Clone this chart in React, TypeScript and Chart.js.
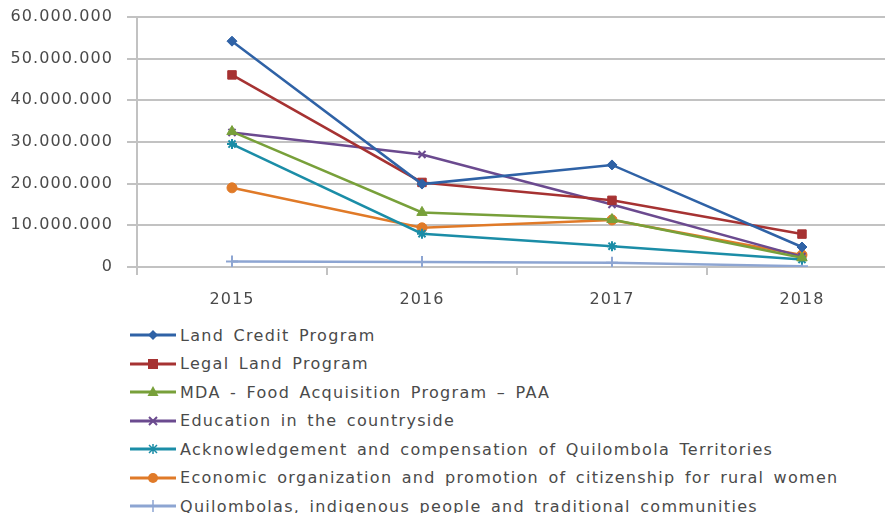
import { useEffect, useRef } from 'react';
import { Chart, registerables } from 'chart.js';

Chart.register(...registerables);

const years = ['2015', '2016', '2017', '2018'];
const seriesNames = [
  'Land Credit Program',
  'Legal Land Program',
  'MDA - Food Acquisition Program – PAA',
  'Education in the countryside',
  'Acknowledgement and compensation of Quilombola Territories',
  'Economic organization and promotion of citizenship for rural women',
  'Quilombolas, indigenous people and traditional communities',
];
const landCredit = [54200000, 19900000, 24500000, 4800000];
const legalLand = [46100000, 20300000, 16000000, 7900000];
const mdaFood = [32500000, 13100000, 11400000, 2200000];
const education = [32300000, 27000000, 15000000, 2500000];
const acknowledgement = [29500000, 8000000, 5000000, 1800000];
const economicWomen = [19000000, 9400000, 11300000, 2900000];
const quilombolas = [1300000, 1200000, 1000000, 200000];
const yTicks = [0, 10000000, 20000000, 30000000, 40000000, 50000000, 60000000];

const seriesValues = [landCredit, legalLand, mdaFood, education, acknowledgement, economicWomen, quilombolas];
const colors = ['#2f62a6', '#a63232', '#78a03a', '#6b4a8f', '#1b8da7', '#e07a28', '#8da5d2'];
const pointStyles = ['rectRot', 'rect', 'triangle', 'crossRot', 'star', 'circle', 'cross'];
const pointRadii = [5, 6, 6, 5, 5, 5, 6];

const FONT = 'DejaVu Sans';
const TEXT = '#4a4a4a';
const GRID = '#c2c2c2';

function fmt(v: number) {
  return String(Math.round(v)).replace(/\B(?=(\d{3})+(?!\d))/g, '.');
}

const spacingPlugin = {
  id: 'letterSpacing',
  beforeUpdate(chart: any) {
    chart.ctx.letterSpacing = '1.1px';
  },
  beforeDraw(chart: any) {
    chart.ctx.letterSpacing = '1.1px';
  },
};

function Marker({ style, color }: { style: string; color: string }) {
  const cx = 23, cy = 8;
  let shape: any = null;
  if (style === 'rectRot') shape = <polygon points={`${cx},${cy - 5} ${cx + 5},${cy} ${cx},${cy + 5} ${cx - 5},${cy}`} fill={color} />;
  else if (style === 'rect') shape = <rect x={cx - 5} y={cy - 5} width={10} height={10} fill={color} />;
  else if (style === 'triangle') shape = <polygon points={`${cx},${cy - 6} ${cx + 5.5},${cy + 4} ${cx - 5.5},${cy + 4}`} fill={color} />;
  else if (style === 'crossRot') shape = <path d={`M${cx - 4} ${cy - 4} L${cx + 4} ${cy + 4} M${cx + 4} ${cy - 4} L${cx - 4} ${cy + 4}`} stroke={color} strokeWidth={2} />;
  else if (style === 'star') shape = <path d={`M${cx - 4} ${cy - 4} L${cx + 4} ${cy + 4} M${cx + 4} ${cy - 4} L${cx - 4} ${cy + 4} M${cx} ${cy - 5} L${cx} ${cy + 5} M${cx - 5} ${cy} L${cx + 5} ${cy}`} stroke={color} strokeWidth={1.5} />;
  else if (style === 'circle') shape = <circle cx={cx} cy={cy} r={5} fill={color} />;
  else if (style === 'cross') shape = <path d={`M${cx} ${cy - 6} L${cx} ${cy + 6} M${cx - 6} ${cy} L${cx + 6} ${cy}`} stroke={color} strokeWidth={1.5} />;
  return (
    <svg width={46} height={16} style={{ display: 'block', flex: 'none' }}>
      <line x1={0} y1={cy} x2={46} y2={cy} stroke={color} strokeWidth={3} />
      {shape}
    </svg>
  );
}

export default function App() {
  const ref = useRef<HTMLCanvasElement>(null);
  useEffect(() => {
    if (!ref.current) return;
    const chart = new Chart(ref.current, {
      type: 'line',
      data: {
        datasets: seriesValues.map((vals, i) => ({
          label: seriesNames[i],
          data: vals.map((v, j) => ({ x: j, y: v })),
          borderColor: colors[i],
          backgroundColor: colors[i],
          borderWidth: 2.5,
          pointStyle: pointStyles[i] as any,
          pointRadius: pointRadii[i],
          pointBorderWidth: pointStyles[i] === 'crossRot' || pointStyles[i] === 'star' || pointStyles[i] === 'cross' ? 2 : 1,
          tension: 0,
          fill: false,
        })),
      },
      plugins: [spacingPlugin],
      options: {
        responsive: false,
        animation: false,
        layout: { autoPadding: false, padding: { top: 17, right: 0, bottom: 13, left: 0 } },
        plugins: { legend: { display: false }, tooltip: { enabled: false } },
        scales: {
          x: {
            type: 'linear',
            min: -0.5,
            max: 3.437,
            afterBuildTicks: (scale: any) => {
              scale.ticks = [-0.5, 0, 0.5, 1, 1.5, 2, 2.5, 3].map((v) => ({ value: v }));
            },
            afterFit: (scale: any) => {
              scale.height = 40;
              scale.paddingLeft = 0;
              scale.paddingRight = 0;
            },
            border: { display: false },
            grid: {
              drawOnChartArea: false,
              drawTicks: true,
              tickLength: 8,
              lineWidth: 2,
              tickColor: (c: any) => (Number.isInteger(c.tick?.value) ? 'rgba(0,0,0,0)' : GRID),
            },
            ticks: {
              autoSkip: false,
              maxRotation: 0,
              padding: 15,
              color: TEXT,
              font: { family: FONT, size: 16 },
              callback: (v: any) => (Number.isInteger(v) ? years[v] : ''),
            },
          },
          y: {
            min: 0,
            max: 60000000,
            afterBuildTicks: (scale: any) => {
              scale.ticks = yTicks.map((v) => ({ value: v }));
            },
            afterFit: (scale: any) => {
              scale.width = 137;
              scale.paddingTop = 0;
              scale.paddingBottom = 0;
            },
            border: { display: true, color: GRID, width: 2 },
            grid: { color: GRID, lineWidth: 2, tickLength: 10 },
            ticks: {
              padding: 14,
              color: TEXT,
              font: { family: FONT, size: 16 },
              callback: (v: any) => fmt(v),
            },
          },
        },
      },
    });
    return () => chart.destroy();
  }, []);

  return (
    <div style={{ position: 'fixed', left: 0, top: 0, width: 885, height: 513, background: '#fff', overflow: 'hidden' }}>
      <canvas ref={ref} width={885} height={320} style={{ position: 'absolute', left: 0, top: 0, width: 885, height: 320 }} />
      <div style={{ position: 'absolute', left: 130, top: 321, fontFamily: FONT, fontSize: 16, letterSpacing: '1.3px', wordSpacing: '3px', color: TEXT }}>
        {seriesNames.map((name, i) => (
          <div key={name} style={{ display: 'flex', alignItems: 'center', height: 28.5, whiteSpace: 'nowrap' }}>
            <Marker style={pointStyles[i]} color={colors[i]} />
            <span style={{ marginLeft: 4 }}>{name}</span>
          </div>
        ))}
      </div>
    </div>
  );
}
